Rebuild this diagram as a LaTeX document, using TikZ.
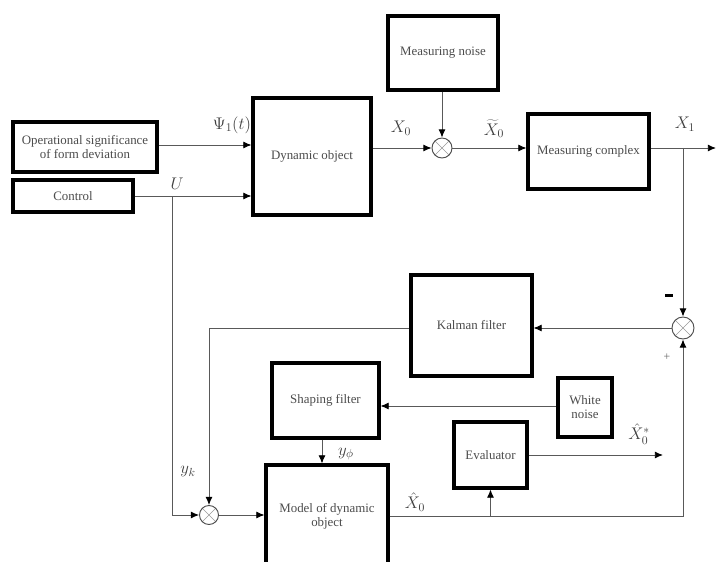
\documentclass[tikz,border=0pt]{standalone}
\usepackage{fontspec}
\setmainfont{Liberation Serif}
\usetikzlibrary{arrows.meta}
\def\u{0.03cm}
\tikzset{
  box/.style={draw=black, line width=2.6pt, fill=white, text=black!70, font=\fontsize{11}{12}\selectfont, align=center, inner sep=1pt},
  sumnode/.style={circle, draw=black!70, line width=0.8pt, minimum size=20*\u, inner sep=0pt,
    path picture={\draw[black!40, line width=0.5pt] (path picture bounding box.north west) -- (path picture bounding box.south east)
      (path picture bounding box.north east) -- (path picture bounding box.south west);}},
  conn/.style={draw=black!65, line width=0.8pt},
  arr/.style={conn, -{Latex[length=7pt,width=6pt,color=black]}},
  lbl/.style={text=black!75, font=\Large, inner sep=0pt}
}
\begin{document}
\begin{tikzpicture}[x=0.03cm, y=-0.03cm]
\useasboundingbox (0,0) rectangle (716,562);
\clip (0,0) rectangle (716,562);
% boxes
\node[box, minimum width=144*\u, minimum height=50*\u] (op) at (85,147) {Operational significance\\of form deviation};
\node[box, minimum width=120*\u, minimum height=32*\u] (ctrl) at (73,196) {Control};
\node[box, minimum width=118*\u, minimum height=117*\u] (dyn) at (312,156.5) {Dynamic object};
\node[box, minimum width=110*\u, minimum height=74*\u] (mn) at (443,53) {Measuring noise};
\node[box, minimum width=121*\u, minimum height=75*\u] (mc) at (588.5,151.5) {Measuring complex};
\node[box, minimum width=121*\u, minimum height=101*\u] (kf) at (471.5,325.5) {Kalman filter};
\node[box, minimum width=107*\u, minimum height=75*\u] (sf) at (325.5,400.5) {Shaping filter};
\node[box, minimum width=54*\u, minimum height=59*\u] (wn) at (585,407.5) {White\\noise};
\node[box, minimum width=73*\u, minimum height=66*\u] (ev) at (490.5,455) {Evaluator};
\node[box, minimum width=122*\u, minimum height=102*\u] (md) at (327,516) {Model of dynamic\\object};
% summing junctions
\node[sumnode] (s1) at (442,148) {};
\node[sumnode, minimum size=22*\u] (s2) at (683,328) {};
\node[sumnode, minimum size=19*\u] (s3) at (209,515) {};
% coordinates
\coordinate (out) at (716,148);
\coordinate (br) at (683,148);
\coordinate (uu) at (172,196);
\coordinate (evo) at (663,460);
% connectors
\draw[arr] (op.east |- 0,145) -- (dyn.west |- 0,145);
\draw[arr] (ctrl.east) -- (dyn.west |- ctrl.east);
\draw[arr] (dyn.east |- s1) -- (s1);
\draw[arr] (mn.south -| s1) -- (s1);
\draw[arr] (s1) -- (mc.west |- s1);
\draw[arr] (mc.east |- s1) -- (out);
\draw[arr] (br) -- (s2);
\draw[arr] (s2) -- (kf.east |- s2);
\draw[arr] (kf.west |- s2) -| (s3);
\draw[arr] (uu) |- (s3);
\draw[arr] (s3) -- (md.west |- s3);
\draw[arr] (sf.south -| 322,0) -- (md.north -| 322,0);
\draw[arr] (wn.west |- 0,406) -- (sf.east |- 0,406);
\draw[arr] (md.east) -| (s2);
\draw[arr] (ev.south |- md.east) -- (ev.south);
\draw[arr] (ev.east) -- (ev.east -| evo);
% labels
\node[lbl] (lpsi) at (232,125) {$\Psi_1(t)$};
\node[lbl] (lu) at (177,184) {$U$};
\node[lbl] (lx0) at (401,128) {$X_0$};
\node[lbl] (lxt) at (494,129) {$\widetilde{X}_0$};
\node[lbl] (lx1) at (685,124) {$X_1$};
\node[fill=black, minimum width=8*\u, minimum height=3*\u, inner sep=0pt] (lmin) at (669,295) {};
\node[text=black!60, font=\normalsize, inner sep=0pt] (lplus) at (667,357) {+};
\node[lbl] (lyk) at (188,472) {$y_k$};
\node[lbl] (lyf) at (346,454) {$y_\phi$};
\node[lbl] (lxh) at (415,502) {$\hat{X}_0$};
\node[lbl] (lxs) at (639,434) {$\hat{X}_0^*$};
\end{tikzpicture}
\end{document}
